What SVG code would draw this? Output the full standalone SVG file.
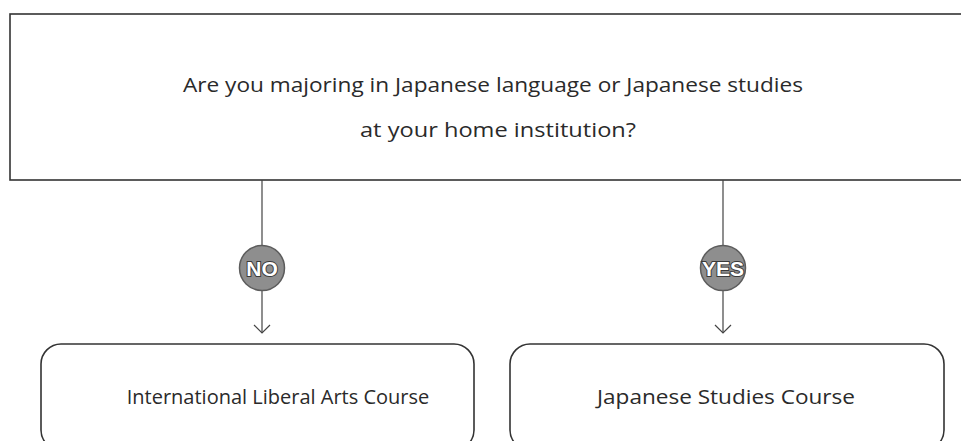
<svg xmlns="http://www.w3.org/2000/svg" width="961" height="441" viewBox="0 0 961 441">
<defs>
<style>
.box{fill:#fff;stroke:#333;stroke-width:1.6}
.line{fill:none;stroke:#444;stroke-width:1.2}
.txt{font-family:"Open Sans",Lato,"Liberation Sans",sans-serif;font-weight:400;fill:#2a2a2a;text-anchor:middle}
.badge{fill:#8e8e8e;stroke:#5c5c5c;stroke-width:1.5}
.btxt{font-family:"Liberation Sans",Arial,sans-serif;font-weight:bold;font-size:21px;fill:#fff;stroke:#3a3a3a;stroke-width:2;paint-order:stroke;text-anchor:middle}
</style>
</defs>
<rect width="961" height="441" fill="#fff"/>
<g id="question">
<rect class="box" x="10" y="14" width="980" height="166"/>
<text class="txt" x="493" y="92" font-size="20" textLength="620" lengthAdjust="spacingAndGlyphs">Are you majoring in Japanese language or Japanese studies</text>
<text class="txt" x="498" y="137" font-size="20" textLength="276" lengthAdjust="spacingAndGlyphs">at your home institution?</text>
</g>
<g id="connectors">
<line class="line" x1="262" y1="180" x2="262" y2="246"/>
<line class="line" x1="262" y1="290" x2="262" y2="333"/>
<path class="line" d="M254 325 L262 333 L270 325"/>
<line class="line" x1="723" y1="180" x2="723" y2="246"/>
<line class="line" x1="723" y1="290" x2="723" y2="333"/>
<path class="line" d="M715 325 L723 333 L731 325"/>
</g>
<g id="no-label">
<circle class="badge" cx="262" cy="268" r="22.5"/>
<text class="btxt" x="262" y="276">NO</text>
</g>
<g id="yes-label">
<circle class="badge" cx="723" cy="268" r="22.5"/>
<text class="btxt" x="723" y="276">YES</text>
</g>
<g id="liberal-arts">
<rect class="box" x="41" y="344" width="433" height="106" rx="20"/>
<text class="txt" x="278" y="404" font-size="20">International Liberal Arts Course</text>
</g>
<g id="japanese-studies">
<rect class="box" x="510" y="344" width="434" height="106" rx="20"/>
<text class="txt" x="726" y="404" font-size="20" textLength="258" lengthAdjust="spacingAndGlyphs">Japanese Studies Course</text>
</g>
</svg>
